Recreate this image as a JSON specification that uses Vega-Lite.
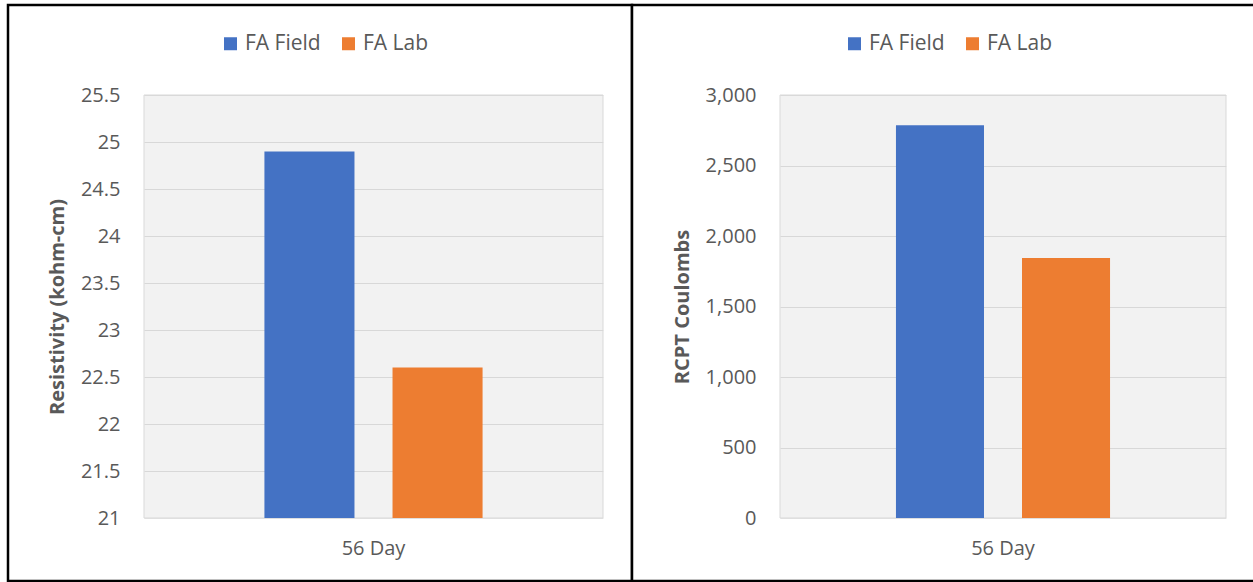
{
  "$schema": "https://vega.github.io/schema/vega-lite/v6.json",
  "padding": {"left": 6, "top": 3, "right": -3, "bottom": 0},
  "bounds": "flush",
  "spacing": 0,
  "background": "white",
  "config": {
    "font": "Open Sans",
    "view": {"stroke": "#000000", "strokeWidth": 2.5, "fill": "white"},
    "axis": {"labelFont": "Open Sans", "labelFontSize": 20, "labelColor": "#595959", "titleFont": "Open Sans", "titleFontSize": 20, "titleFontWeight": "bold", "titleColor": "#595959"},
    "legend": {"labelFont": "Open Sans", "labelFontSize": 21, "labelColor": "#595959", "symbolType": "square", "symbolSize": 169, "symbolStrokeWidth": 0, "columnPadding": 17, "labelOffset": 4, "padding": 0}
  },
  "resolve": {
    "scale": {"x": "independent", "y": "independent", "xOffset": "independent", "color": "independent"},
    "legend": {"color": "independent"}
  },
  "hconcat": [
    {
      "width": 624,
      "height": 576,
      "data": {"values": [
        {"day": "56 Day", "series": "FA Field", "value": 24.9},
        {"day": "56 Day", "series": "FA Lab", "value": 22.6}
      ]},
      "layer": [
        {
          "data": {"values": [{"day": "56 Day"}]},
          "mark": {"type": "rect", "fill": "#000000", "fillOpacity": 0.05, "stroke": "#d9d9d9", "strokeWidth": 1, "strokeOpacity": 1},
          "encoding": {
            "x": {"field": "day", "type": "nominal", "scale": {"range": [136, 595], "paddingInner": 0, "paddingOuter": 0},
                  "axis": {"offset": -63, "labelPadding": 20, "title": null, "domain": false, "ticks": false, "tickSize": 0, "grid": false, "labelAngle": 0}},
            "y": {"datum": 25.5, "type": "quantitative", "scale": {"domain": [21, 25.5], "range": [513, 90], "nice": false, "zero": false},
                  "axis": {"offset": -136, "values": [21, 21.5, 22, 22.5, 23, 23.5, 24, 24.5, 25, 25.5], "format": "~g", "title": "Resistivity (kohm-cm)", "grid": true, "gridColor": "#e4e4e4", "domain": false, "ticks": false, "tickSize": 0, "labelPadding": 24, "titlePadding": 13}},
            "y2": {"datum": 21}
          }
        },
        {
          "mark": {"type": "bar"},
          "encoding": {
            "x": {"field": "day", "type": "nominal"},
            "xOffset": {"field": "series", "type": "nominal", "scale": {"paddingInner": 0.297, "paddingOuter": 0.94}},
            "y": {"field": "value", "type": "quantitative", "axis": {"title": "Resistivity (kohm-cm)"}},
            "y2": {"datum": 21},
            "color": {"field": "series", "type": "nominal", "scale": {"domain": ["FA Field", "FA Lab"], "range": ["#4472C4", "#ED7D31"]},
                      "legend": {"orient": "none", "legendX": 212, "legendY": 28, "direction": "horizontal", "title": null}}
          }
        }
      ]
    },
    {
      "width": 624,
      "height": 576,
      "data": {"values": [
        {"day": "56 Day", "series": "FA Field", "value": 2785},
        {"day": "56 Day", "series": "FA Lab", "value": 1844}
      ]},
      "layer": [
        {
          "data": {"values": [{"day": "56 Day"}]},
          "mark": {"type": "rect", "fill": "#000000", "fillOpacity": 0.05, "stroke": "#d9d9d9", "strokeWidth": 1, "strokeOpacity": 1},
          "encoding": {
            "x": {"field": "day", "type": "nominal", "scale": {"range": [148, 594], "paddingInner": 0, "paddingOuter": 0},
                  "axis": {"offset": -63, "labelPadding": 20, "title": null, "domain": false, "ticks": false, "tickSize": 0, "grid": false, "labelAngle": 0}},
            "y": {"datum": 3000, "type": "quantitative", "scale": {"domain": [0, 3000], "range": [513, 90], "nice": false, "zero": false},
                  "axis": {"offset": -148, "values": [0, 500, 1000, 1500, 2000, 2500, 3000], "format": ",d", "title": "RCPT Coulombs", "grid": true, "gridColor": "#e4e4e4", "domain": false, "ticks": false, "tickSize": 0, "labelPadding": 24, "titlePadding": 13}},
            "y2": {"datum": 0}
          }
        },
        {
          "mark": {"type": "bar"},
          "encoding": {
            "x": {"field": "day", "type": "nominal"},
            "xOffset": {"field": "series", "type": "nominal", "scale": {"paddingInner": 0.3016, "paddingOuter": 0.92}},
            "y": {"field": "value", "type": "quantitative", "axis": {"title": "RCPT Coulombs"}},
            "y2": {"datum": 0},
            "color": {"field": "series", "type": "nominal", "scale": {"domain": ["FA Field", "FA Lab"], "range": ["#4472C4", "#ED7D31"]},
                      "legend": {"orient": "none", "legendX": 212, "legendY": 28, "direction": "horizontal", "title": null}}
          }
        }
      ]
    }
  ]
}
